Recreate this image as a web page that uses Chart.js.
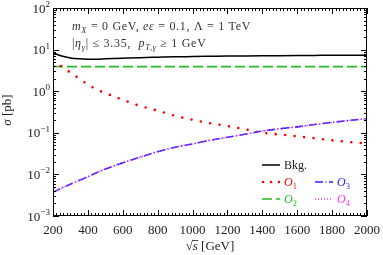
<!DOCTYPE html>
<html>
<head>
<meta charset="utf-8">
<script src="https://cdn.jsdelivr.net/npm/chart.js@4"></script>
<style>
  body { margin: 0; background: #fff; }
  #wrap { width: 383px; height: 255px; }
</style>
</head>
<body>
<div id="wrap"><canvas id="Chart" width="383" height="255"></canvas></div>
<script>
// sqrt(s) in GeV
const sqrtS = [200, 250, 300, 350, 400, 450, 500, 600, 700, 800, 900, 1000,
               1100, 1200, 1300, 1400, 1500, 1600, 1700, 1800, 1900, 2000];
// cross sections in pb
const bkg = [8.3, 7.0, 6.3, 6.0, 5.9, 5.9, 6.0, 6.2, 6.4, 6.55, 6.7, 6.8,
             6.9, 7.0, 7.05, 7.1, 7.15, 7.2, 7.25, 7.3, 7.3, 7.3];
const op1 = [5.4, 3.9, 2.8, 2.0, 1.45, 1.1, 0.9, 0.62, 0.44, 0.34, 0.255, 0.205,
             0.17, 0.145, 0.122, 0.1, 0.091, 0.082, 0.074, 0.066, 0.06, 0.055];
const op2 = [3.95, 3.9, 3.9, 3.9, 3.9, 3.9, 3.9, 3.9, 3.9, 3.9, 3.9, 3.9,
             3.9, 3.9, 3.9, 3.9, 3.9, 3.9, 3.9, 3.9, 3.9, 3.9];
const op3 = [0.0037, 0.0047, 0.0058, 0.0072, 0.0088, 0.011, 0.0135, 0.019, 0.026, 0.035, 0.045, 0.054,
             0.066, 0.078, 0.092, 0.11, 0.125, 0.139, 0.158, 0.178, 0.198, 0.218];
const op4 = op3.slice(); // same curve as O3

const xTickLabels = [200, 400, 600, 800, 1000, 1200, 1400, 1600, 1800, 2000];
const yTickExps = [-3, -2, -1, 0, 1, 2];

const SERIF = '"Liberation Serif", "DejaVu Serif", serif';

function pts(ys) {
    return sqrtS.map((x, i) => ({ x: x, y: ys[i] }));
}

// draw text with italic / sub / sup pieces, returns end x
function runs(ctx, x, y, parts, size, measureOnly) {
    for (const p of parts) {
        const small = p.sub || p.sup;
        const fs = small ? size * 0.7 : size;
        ctx.font = (p.it ? 'italic ' : '') + fs + 'px ' + SERIF;
        let dy = 0;
        if (p.sub) dy = size * 0.25;
        if (p.sup) dy = -size * 0.42;
        if (!measureOnly) ctx.fillText(p.t, x, y + dy);
        x += ctx.measureText(p.t).width;
    }
    return x;
}

const styles = {
    bkg: { color: '#000', width: 1.5, dash: [], cap: 'butt' },
    op1: { color: '#ff0000', width: 2.6, dash: [0, 9.5], cap: 'round' },
    op2: { color: '#22bb22', width: 1.6, dash: [10, 4], cap: 'butt' },
    op3: { color: '#2222ff', width: 1.6, dash: [8, 2.5, 1, 2.5], cap: 'butt' },
    op4: { color: '#ff33ff', width: 1.4, dash: [1, 2], cap: 'butt' }
};

function ds(label, ys, st) {
    return {
        label: label,
        data: pts(ys),
        borderColor: st.color,
        borderWidth: st.width,
        borderDash: st.dash,
        borderCapStyle: st.cap,
        pointRadius: 0,
        fill: false,
        cubicInterpolationMode: 'monotone'
    };
}

const decor = {
    id: 'decor',
    afterDraw(chart) {
        const ctx = chart.ctx;
        const a = chart.chartArea;
        const xs = chart.scales.x, ys = chart.scales.y;
        ctx.save();
        ctx.strokeStyle = '#000';
        ctx.lineWidth = 1;
        // frame
        ctx.strokeRect(a.left + 0.5, a.top + 0.5, a.right - a.left - 1, a.bottom - a.top - 1);
        // x ticks
        ctx.beginPath();
        for (let v = 200; v <= 2000; v += 20) {
            const px = Math.round(xs.getPixelForValue(v)) + 0.5;
            const len = (v % 200 === 0) ? 6 : 3;
            ctx.moveTo(px, a.bottom); ctx.lineTo(px, a.bottom - len);
            ctx.moveTo(px, a.top); ctx.lineTo(px, a.top + len);
        }
        // y ticks
        for (let e = -3; e <= 2; e++) {
            for (let m = 1; m <= 9; m++) {
                if (e === 2 && m > 1) break;
                const py = Math.round(ys.getPixelForValue(m * Math.pow(10, e))) + 0.5;
                const len = m === 1 ? 6 : 3;
                ctx.moveTo(a.left, py); ctx.lineTo(a.left + len, py);
                ctx.moveTo(a.right, py); ctx.lineTo(a.right - len, py);
            }
        }
        ctx.stroke();

        ctx.fillStyle = '#222';
        ctx.textBaseline = 'alphabetic';
        // x tick labels
        ctx.font = '13px ' + SERIF;
        ctx.textAlign = 'center';
        xTickLabels.forEach(v => {
            ctx.fillText(String(v), xs.getPixelForValue(v), 234);
        });
        // y tick labels
        ctx.textAlign = 'left';
        yTickExps.forEach(e => {
            const parts = [{ t: '10' }, { t: (e < 0 ? '\u2212' : '') + Math.abs(e), sup: true }];
            const w = runs(ctx, 0, 0, parts, 13, true);
            const py = ys.getPixelForValue(Math.pow(10, e));
            runs(ctx, 50 - w, py + 4.5, parts, 13);
        });
        // x title
        const xt = [{ t: '\u221A' }, { t: 's', it: true }, { t: ' [GeV]' }];
        const xw = runs(ctx, 0, 0, xt, 13, true);
        const x0 = (a.left + a.right) / 2 - xw / 2;
        ctx.font = '13px ' + SERIF;
        const rootW = ctx.measureText('\u221A').width;
        ctx.font = 'italic 13px ' + SERIF;
        const sW = ctx.measureText('s').width;
        runs(ctx, x0, 250, xt, 13);
        ctx.beginPath();
        ctx.lineWidth = 0.8;
        ctx.strokeStyle = '#222';
        ctx.moveTo(x0 + rootW - 0.5, 240.5); ctx.lineTo(x0 + rootW + sW + 0.5, 240.5);
        ctx.stroke();
        // y title
        ctx.save();
        ctx.translate(11, 110);
        ctx.rotate(-Math.PI / 2);
        const yt = [{ t: '\u03C3', it: true }, { t: ' [pb]' }];
        const yw = runs(ctx, 0, 0, yt, 13, true);
        runs(ctx, -yw / 2, 0, yt, 13);
        ctx.restore();

        // annotation (Computer Modern is wider than Times, so open it up a little)
        ctx.fillStyle = '#333';
        ctx.letterSpacing = '0.7px';
        runs(ctx, 72, 30, [
            { t: 'm', it: true }, { t: 'X', it: true, sub: true },
            { t: ' = 0 GeV, ' }, { t: 'e\u03B5', it: true },
            { t: ' = 0.1, \u039B = 1 TeV' }
        ], 12);
        runs(ctx, 72, 47, [
            { t: '|' }, { t: '\u03B7', it: true }, { t: '\u03B3', it: true, sub: true },
            { t: '| \u2264 3.35,  ' }, { t: 'p', it: true }, { t: 'T,\u03B3', it: true, sub: true },
            { t: ' \u2265 1 GeV' }
        ], 12);
        ctx.letterSpacing = '0px';

        // legend
        const items = [
            { st: styles.bkg, x: 262, y: 165, lab: [{ t: 'Bkg.' }], col: '#222' },
            { st: styles.op1, x: 262, y: 182, lab: [{ t: 'O', it: true }, { t: '1', sub: true }] },
            { st: styles.op3, x: 315, y: 182, lab: [{ t: 'O', it: true }, { t: '3', sub: true }] },
            { st: styles.op2, x: 262, y: 199, lab: [{ t: 'O', it: true }, { t: '2', sub: true }] },
            { st: styles.op4, x: 315, y: 199, lab: [{ t: 'O', it: true }, { t: '4', sub: true }] }
        ];
        items.forEach(it => {
            ctx.beginPath();
            ctx.strokeStyle = it.st.color;
            ctx.lineWidth = it.st.width;
            ctx.setLineDash(it.st.cap === 'round' ? [0, 8] : it.st.dash);
            ctx.lineCap = it.st.cap;
            ctx.moveTo(it.x + (it.st.cap === 'round' ? 1 : 0), it.y);
            ctx.lineTo(it.x + 18, it.y);
            ctx.stroke();
            ctx.setLineDash([]);
            ctx.lineCap = 'butt';
            ctx.fillStyle = it.col || it.st.color;
            runs(ctx, it.x + 22, it.y + 4, it.lab, 12);
        });
        ctx.restore();
    }
};

function main() {
    const ctx = document.getElementById('Chart');
    new Chart(ctx, {
        type: 'line',
        data: {
            datasets: [
                ds('O4', op4, styles.op4),
                ds('O3', op3, styles.op3),
                ds('O1', op1, styles.op1),
                ds('O2', op2, styles.op2),
                ds('Bkg.', bkg, styles.bkg)
            ]
        },
        options: {
            responsive: false,
            animation: false,
            devicePixelRatio: 1,
            layout: { padding: { left: 53, right: 16, top: 8, bottom: 39 } },
            plugins: { legend: { display: false }, tooltip: { enabled: false } },
            scales: {
                x: { type: 'linear', min: 200, max: 2000, display: false },
                y: { type: 'logarithmic', min: 0.001, max: 100, display: false }
            }
        },
        plugins: [decor]
    });
}
main();
</script>
</body>
</html>
